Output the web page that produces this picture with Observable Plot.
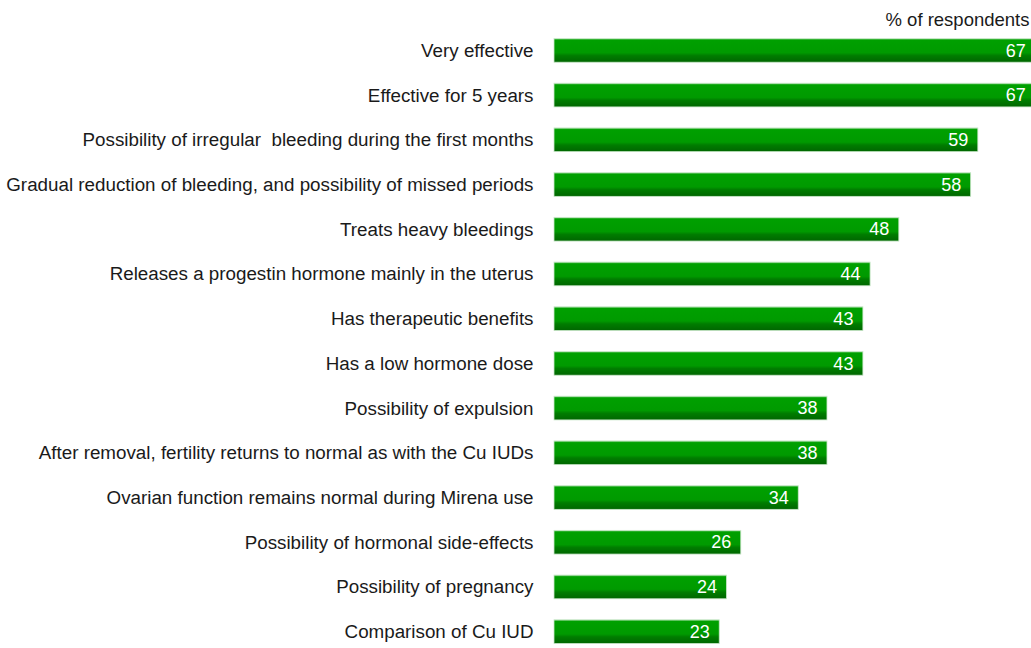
<!DOCTYPE html>
<html>
<head>
<meta charset="utf-8">
<script src="https://cdn.jsdelivr.net/npm/d3@7"></script>
<script src="https://cdn.jsdelivr.net/npm/@observablehq/plot@0.6"></script>
<style>
  html, body { margin: 0; padding: 0; background: #fff; }
  #chart { width: 1031px; height: 648px; overflow: hidden; }
</style>
</head>
<body>
<div id="chart"></div>
<script>
const categories = [
  "Very effective",
  "Effective for 5 years",
  "Possibility of irregular  bleeding during the first months",
  "Gradual reduction of bleeding, and possibility of missed periods",
  "Treats heavy bleedings",
  "Releases a progestin hormone mainly in the uterus",
  "Has therapeutic benefits",
  "Has a low hormone dose",
  "Possibility of expulsion",
  "After removal, fertility returns to normal as with the Cu IUDs",
  "Ovarian function remains normal during Mirena use",
  "Possibility of hormonal side-effects",
  "Possibility of pregnancy",
  "Comparison of Cu IUD"
];
const values = [67, 67, 59, 58, 48, 44, 43, 43, 38, 38, 34, 26, 24, 23];
const unitLabel = "% of respondents";

const data = categories.map((c, i) => ({label: c, value: values[i]}));

const plot = Plot.plot({
  width: 1031,
  height: 648,
  marginLeft: 553,
  marginRight: 0,
  marginTop: 0,
  marginBottom: 0,
  style: {fontFamily: "Arial, 'Liberation Sans', sans-serif", fontSize: "18.8px", color: "#1a1a1a", background: "#fff", overflow: "hidden"},
  x: {domain: [0, 66.4], range: [554, 1031], axis: null},
  y: {domain: categories, range: [28, 654], round: false, paddingInner: 0.47, paddingOuter: 0.235, label: null, tickSize: 0, tickPadding: 20},
  marks: [
    Plot.barX(data, {y: "label", x: "value", fill: "url(#barGrad)", stroke: "#c8e6c8", strokeWidth: 0.8}),
    Plot.text(data, {y: "label", x: "value", text: d => String(d.value), textAnchor: "end", dx: -10, fill: "#fff", fontSize: 18}),
    Plot.ruleX([0], {y1: 28, y2: 648, stroke: "#8a8a8a", strokeWidth: 1.5, dx: -0.5}),
    Plot.text([unitLabel], {frameAnchor: "top-right", textAnchor: "end", lineAnchor: "top", dy: 12, dx: -2, fill: "#1a1a1a", fontSize: 18.5})
  ]
});

// gradient definition for bars
const svg = d3.select(plot);
const defs = svg.insert("defs", ":first-child");
const g = defs.append("linearGradient").attr("id", "barGrad").attr("x1", 0).attr("y1", 0).attr("x2", 0).attr("y2", 1);
[["0%", "#7fd07f"], ["7%", "#00a000"], ["60%", "#009a00"], ["72%", "#007d00"], ["100%", "#006600"]]
  .forEach(([o, c]) => g.append("stop").attr("offset", o).attr("stop-color", c));

document.getElementById("chart").appendChild(plot);
</script>
</body>
</html>
